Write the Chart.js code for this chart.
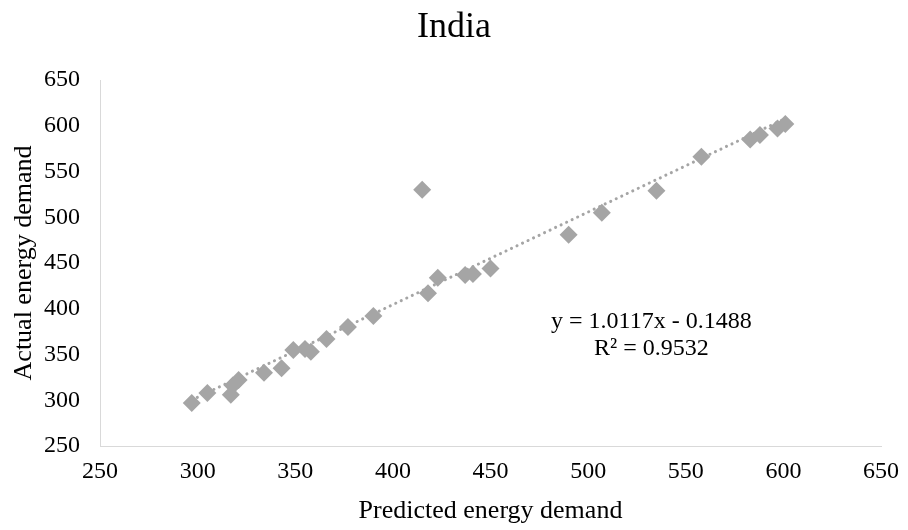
<!DOCTYPE html>
<html>
<head>
<meta charset="utf-8">
<script src="https://cdn.jsdelivr.net/npm/chart.js@4.4.1/dist/chart.umd.min.js"></script>
<style>
  html, body { margin: 0; padding: 0; background: #fff; }
  #wrap { width: 908px; height: 530px; }
</style>
</head>
<body>
<div id="wrap"><canvas id="scatterChart" width="908" height="530"></canvas></div>
<script>
// ── DATA ──
const predicted = [297, 305, 317, 318, 321, 334, 343, 349, 355, 358, 366, 377, 390, 415, 418, 423, 437, 441, 450, 490, 507, 535, 558, 583, 588, 597, 601];
const actual    = [297, 308, 306, 316, 322, 330, 335, 355, 356, 353, 367, 380, 392, 530, 417, 434, 437, 438, 444, 481, 505, 529, 566, 585, 590, 597, 602];
const xTicks = [250, 300, 350, 400, 450, 500, 550, 600, 650];
const yTicks = [250, 300, 350, 400, 450, 500, 550, 600, 650];
const trendCoef = [1.0117, -0.1488];   // slope, intercept
const trendText = ['y = 1.0117x - 0.1488', 'R² = 0.9532'];

const SERIF = "'Liberation Serif', 'Times New Roman', serif";
const GREY = '#a5a5a5';

window.addEventListener('DOMContentLoaded', () => {
  const points = predicted.map((x, i) => ({ x, y: actual[i] }));
  const xMin = Math.min(...predicted), xMax = Math.max(...predicted);
  const trend = [xMin, xMax].map(x => ({ x, y: trendCoef[0] * x + trendCoef[1] }));

  // equation label beside the trendline
  const eqLabel = {
    id: 'eqLabel',
    afterDatasetsDraw(chart) {
      const { ctx, chartArea: a } = chart;
      ctx.save();
      ctx.font = `24px ${SERIF}`;
      ctx.fillStyle = '#000';
      ctx.textAlign = 'center';
      ctx.textBaseline = 'middle';
      const cx = a.left + a.width * 0.706;
      ctx.fillText(trendText[0], cx, a.top + a.height * 0.66);
      ctx.fillText(trendText[1], cx, a.top + a.height * 0.734);
      ctx.restore();
    },
  };

  new Chart(document.getElementById('scatterChart').getContext('2d'), {
    type: 'scatter',
    data: {
      datasets: [
        {
          label: 'India',
          data: points,
          pointStyle: 'rectRot',
          pointRadius: 9,
          pointHoverRadius: 9,
          backgroundColor: GREY,
          borderColor: GREY,
          borderWidth: 0,
        },
        {
          label: 'Linear',
          type: 'line',
          data: trend,
          borderColor: GREY,
          borderWidth: 3,
          borderDash: [0.1, 6],
          borderCapStyle: 'round',
          pointRadius: 0,
          fill: false,
        },
      ],
    },
    options: {
      responsive: false,
      animation: false,
      layout: { padding: 0 },
      plugins: {
        legend: { display: false },
        tooltip: { enabled: false },
        title: {
          display: true,
          text: 'India',
          color: '#000',
          font: { family: SERIF, size: 36, weight: 'normal' },
          padding: { top: 6, bottom: 30.8 },
        },
      },
      scales: {
        x: {
          type: 'linear',
          min: 250, max: 650,
          afterBuildTicks: s => { s.ticks = xTicks.map(v => ({ value: v })); },
          afterFit: s => { s.height = 84; s.paddingRight = 27; },
          grid: { display: false, drawTicks: false },
          border: { display: true, color: '#d9d9d9', width: 1 },
          ticks: { color: '#000', padding: 11, font: { family: SERIF, size: 24 } },
          title: {
            display: true,
            text: 'Predicted energy demand',
            color: '#000',
            font: { family: SERIF, size: 26 },
            padding: { top: 0, bottom: 3 },
          },
        },
        y: {
          type: 'linear',
          min: 250, max: 650,
          afterBuildTicks: s => { s.ticks = yTicks.map(v => ({ value: v })); },
          afterFit: s => { s.width = 100; },
          grid: { display: false, drawTicks: false },
          border: { display: true, color: '#d9d9d9', width: 1 },
          ticks: { color: '#000', padding: 20, font: { family: SERIF, size: 24 } },
          title: {
            display: true,
            text: 'Actual energy demand',
            color: '#000',
            font: { family: SERIF, size: 26 },
            padding: { top: 9, bottom: 0 },
          },
        },
      },
    },
    plugins: [eqLabel],
  });
});
</script>
</body>
</html>
